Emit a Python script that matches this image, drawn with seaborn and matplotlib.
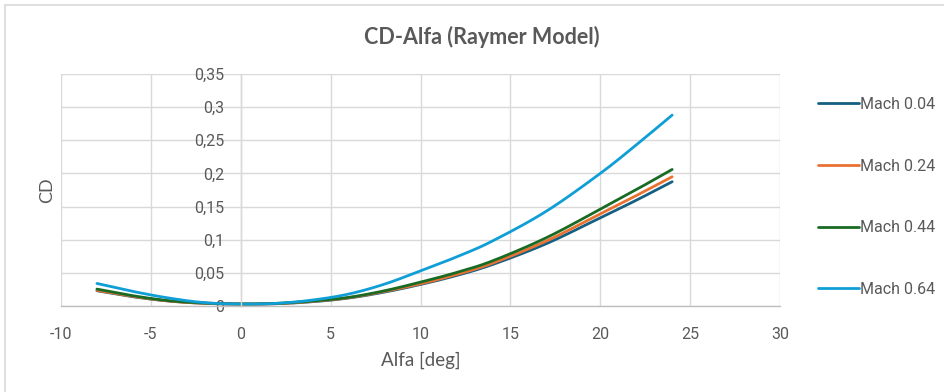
import numpy as np
import pandas as pd
import matplotlib
matplotlib.use("Agg")
import matplotlib.pyplot as plt
from matplotlib.ticker import FuncFormatter, MultipleLocator
from matplotlib.patches import Rectangle
import seaborn as sns

# Angle of attack [deg]
alfa = [-8, -6, -4, -2, 0, 2, 4, 6, 8, 10, 12, 14, 17, 20, 22, 24]

# Drag coefficient per Mach number
cd_m004 = [0.0230, 0.0140, 0.0075, 0.0040, 0.0030, 0.0035, 0.0065, 0.0120, 0.0210, 0.0325,
           0.0460, 0.0625, 0.0940, 0.1330, 0.1595, 0.1875]
cd_m024 = [0.0235, 0.0145, 0.0075, 0.0040, 0.0030, 0.0035, 0.0070, 0.0125, 0.0220, 0.0335,
           0.0475, 0.0645, 0.0980, 0.1390, 0.1665, 0.1950]
cd_m044 = [0.0255, 0.0155, 0.0080, 0.0045, 0.0030, 0.0040, 0.0075, 0.0130, 0.0230, 0.0360,
           0.0505, 0.0680, 0.1030, 0.1460, 0.1755, 0.2060]
cd_m064 = [0.0340, 0.0220, 0.0120, 0.0050, 0.0030, 0.0040, 0.0090, 0.0180, 0.0330, 0.0530,
           0.0740, 0.0980, 0.1430, 0.2000, 0.2430, 0.2880]

series_names = ["Mach 0.04", "Mach 0.24", "Mach 0.44", "Mach 0.64"]
series_values = [cd_m004, cd_m024, cd_m044, cd_m064]
colors = ["#156082", "#E97132", "#196B24", "#0F9ED5"]

title = "CD-Alfa (Raymer Model)"
xlabel = "Alfa [deg]"
ylabel = "CD"


def smooth_path(xs, ys, steps=12):
    """Catmull-Rom smoothing through the given points (smoothed-line style)."""
    xs = np.asarray(xs, float)
    ys = np.asarray(ys, float)
    px = np.concatenate([[2 * xs[0] - xs[1]], xs, [2 * xs[-1] - xs[-2]]])
    py = np.concatenate([[2 * ys[0] - ys[1]], ys, [2 * ys[-1] - ys[-2]]])
    out_x, out_y = [], []
    t = np.linspace(0, 1, steps, endpoint=False)
    for i in range(1, len(px) - 2):
        for arr, out in ((px, out_x), (py, out_y)):
            p0, p1, p2, p3 = arr[i - 1], arr[i], arr[i + 1], arr[i + 2]
            seg = 0.5 * ((2 * p1) + (-p0 + p2) * t + (2 * p0 - 5 * p1 + 4 * p2 - p3) * t ** 2
                         + (-p0 + 3 * p1 - 3 * p2 + p3) * t ** 3)
            out.extend(seg)
    out_x.append(xs[-1])
    out_y.append(ys[-1])
    return out_x, out_y


rows = []
for name, vals in zip(series_names, series_values):
    sx, sy = smooth_path(alfa, vals)
    for a, v in zip(sx, sy):
        rows.append({"Alfa": a, "CD": v, "Serie": name})
df = pd.DataFrame(rows)

sns.set_theme(style="white")
plt.rcParams["font.family"] = ["Roboto", "DejaVu Sans"]

fig = plt.figure(figsize=(9.44, 3.92), dpi=100)
ax = fig.add_axes([61 / 944, 1 - 306 / 392, (780 - 61) / 944, (306 - 74) / 392])

sns.lineplot(data=df, x="Alfa", y="CD", hue="Serie", hue_order=series_names,
             palette=colors, linewidth=2.0, ax=ax, legend=True, sort=False,
             estimator=None)

ax.set_xlim(-10, 30)
ax.set_ylim(0, 0.35)
ax.xaxis.set_major_locator(MultipleLocator(5))
ax.yaxis.set_major_locator(MultipleLocator(0.05))
ax.yaxis.set_major_formatter(FuncFormatter(
    lambda v, p: f"{v:.2f}".rstrip("0").rstrip(".").replace(".", ",") if abs(v) > 1e-9 else "0"))
ax.xaxis.set_major_formatter(FuncFormatter(lambda v, p: f"{v:.0f}"))

ax.grid(True, color="#D9D9D9", linewidth=1.0)
ax.set_axisbelow(True)
for s in ["top", "right"]:
    ax.spines[s].set_visible(False)
ax.spines["left"].set_position(("data", 0))
ax.spines["left"].set_color("#D9D9D9")
ax.spines["left"].set_linewidth(1.0)
ax.spines["bottom"].set_color("#BFBFBF")
ax.spines["bottom"].set_linewidth(1.0)

ax.tick_params(axis="both", length=0, labelsize=11.5, labelcolor="#595959")
ax.tick_params(axis="x", pad=15)
ax.tick_params(axis="y", pad=12)

ax.set_xlabel(xlabel, fontsize=13.5, color="#595959", family=["Lato", "DejaVu Sans"], labelpad=7)
ax.set_ylabel("")
fig.text(47 / 944, 1 - 190 / 392, ylabel, rotation=90, ha="center", va="center",
         fontsize=13, color="#595959", family=["Lato", "DejaVu Sans"])

fig.text(482 / 944, 1 - 37 / 392, title, ha="center", va="center",
         fontsize=15.5, fontweight="bold", color="#595959", family=["Lato", "DejaVu Sans"])

handles, labels = ax.get_legend_handles_labels()
ax.legend_.remove()
leg = fig.legend(handles, labels, loc="upper left", bbox_to_anchor=(818 / 944, 1 - 97 / 392),
                 frameon=False, fontsize=11.5, labelcolor="#595959", handlelength=2.55,
                 handletextpad=0.05, labelspacing=2.92, borderaxespad=0, borderpad=0)
for line in leg.get_lines():
    line.set_linewidth(2.0)

# outer chart frame
fig.add_artist(Rectangle((5 / 944, -0.1), 1.2, 1 - 5 / 392 + 0.1, transform=fig.transFigure,
                         fill=False, edgecolor="#D9D9D9", linewidth=1.2))

fig.savefig("out.png", dpi=100, facecolor="white")
